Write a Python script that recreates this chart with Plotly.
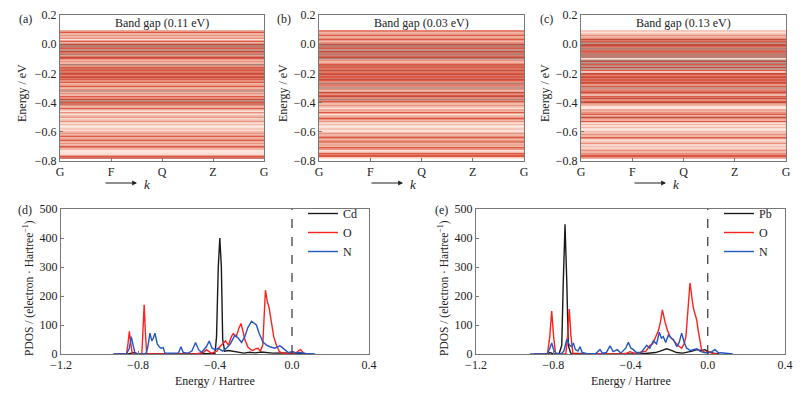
import plotly.graph_objects as go

# The page places the figure 8 px in from the top-left corner (default body margin),
# so the figure is sized to fill the rest of the 809x399 window.
PAGE_OFF = 8
W, H = 809 - PAGE_OFF, 399 - PAGE_OFF
FONT = "Liberation Serif"

# ---------------- Band structure data ----------------
k_labels = ["G", "F", "Q", "Z", "G"]
k_positions = [0, 1, 2, 3, 4]

band_energies = [0.09, 0.08, 0.07, 0.06, 0.05, 0.04, 0.03, 0.02, 0.01, 0.00,
                 -0.01, -0.02, -0.03, -0.04, -0.05, -0.06, -0.07, -0.08, -0.09, -0.10,
                 -0.11, -0.12, -0.13, -0.14, -0.15, -0.16, -0.17, -0.18, -0.19, -0.20,
                 -0.21, -0.22, -0.23, -0.24, -0.25, -0.26, -0.27, -0.28, -0.29, -0.30,
                 -0.31, -0.32, -0.33, -0.34, -0.35, -0.36, -0.37, -0.38, -0.39, -0.40,
                 -0.41, -0.42, -0.43, -0.44, -0.45, -0.46, -0.47, -0.48, -0.49, -0.50,
                 -0.51, -0.52, -0.53, -0.54, -0.55, -0.56, -0.57, -0.58, -0.59, -0.60,
                 -0.61, -0.62, -0.63, -0.64, -0.65, -0.66, -0.67, -0.68, -0.69, -0.70,
                 -0.71, -0.72, -0.73, -0.74, -0.75, -0.76, -0.77, -0.78]

# shade index per band (0 = pale pink ... 3 = red, 4 = dark red, 5 = greyish brown)
shades_a = [2, 3, 1, 2, 1, 2, 0, 3, 1, 4,
            5, 4, 3, 5, 4, 3, 5, 2, 4, 3,
            1, 2, 1, 5, 2, 3, 4, 3, 3, 4,
            3, 3, 4, 3, 2, 3, 1, 2, 3, 1,
            2, 5, 1, 2, 1, 3, 2, 4, 5, 3,
            4, 2, 1, 3, 1, 0, 2, 0, 1, 2,
            0, 1, 2, 0, 1, 0, 0, 1, 0, 1,
            2, 1, 3, 1, 2, 3, 1, 2, 1, 3,
            2, 1, 0, 0, 0, 1, 3, 4]
shades_b = [3, 1, 2, 3, 1, 2, 3, 1, 2, 4,
            5, 4, 3, 5, 4, 4, 5, 3, 4, 5,
            2, 1, 2, 3, 4, 3, 3, 4, 3, 3,
            4, 3, 3, 4, 3, 2, 5, 3, 2, 5,
            2, 1, 4, 2, 3, 4, 2, 5, 3, 2,
            1, 2, 1, 0, 2, 1, 3, 0, 1, 2,
            3, 1, 2, 0, 1, 0, 0, 1, 0, 0,
            2, 1, 2, 3, 1, 2, 3, 1, 2, 1,
            3, 2, 0, 1, 3, 3, 3, 0]
shades_c = [1, 0, 1, 2, 1, 2, 4, 3, 5, 4,
            4, 3, 5, 4, 3, 4, 5, 4, 5, 0,
            5, 4, 5, 3, 5, 4, 5, 3, 0, 4,
            3, 3, 4, 3, 3, 4, 3, 2, 3, 5,
            2, 3, 4, 2, 1, 3, 4, 2, 3, 4,
            2, 1, 0, 0, 2, 1, 2, 3, 1, 4,
            2, 1, 3, 0, 1, 0, 1, 0, 0, 1,
            1, 2, 1, 3, 1, 0, 1, 2, 0, 1,
            0, 1, 2, 1, 2, 3, 3, 2]
shade_colors = ["#fbe1d8", "#f2b8a7", "#e8907c", "#dc5842", "#c44c3c", "#b07d72"]
band_gaps = ["Band gap (0.11 eV)", "Band gap (0.03 eV)", "Band gap (0.13 eV)"]

# ---------------- PDOS data (energy in Hartree, PDOS) ----------------
cd_pdos = [(-0.92, 0), (-0.85, 0), (-0.83, 4), (-0.82, 5), (-0.80, 0), (-0.45, 0), (-0.40, 2),
           (-0.392, 60), (-0.383, 300), (-0.375, 400), (-0.367, 300), (-0.36, 50), (-0.35, 10),
           (-0.33, 12), (-0.30, 8), (-0.27, 5), (-0.25, 3), (-0.22, 6), (-0.19, 4), (-0.16, 7),
           (-0.13, 5), (-0.10, 3), (-0.05, 4), (0.0, 3), (0.05, 1), (0.08, 0)]
o_pdos_d = [(-0.92, 0), (-0.86, 0), (-0.853, 30), (-0.845, 78), (-0.838, 40), (-0.83, 0),
            (-0.78, 0), (-0.774, 80), (-0.768, 170), (-0.762, 80), (-0.755, 0), (-0.50, 0),
            (-0.46, 5), (-0.444, 15), (-0.42, 3), (-0.39, 10), (-0.375, 25), (-0.36, 35),
            (-0.345, 45), (-0.33, 30), (-0.315, 60), (-0.305, 70), (-0.29, 60), (-0.275, 90),
            (-0.265, 105), (-0.255, 80), (-0.245, 50), (-0.23, 25), (-0.215, 15), (-0.202, 12),
            (-0.19, 18), (-0.176, 20), (-0.165, 10), (-0.152, 30), (-0.145, 120), (-0.138, 220),
            (-0.128, 180), (-0.119, 160), (-0.107, 110), (-0.095, 60), (-0.081, 30), (-0.065, 8),
            (-0.05, 3), (-0.02, 2), (0.02, 3), (0.035, 12), (0.045, 15), (0.06, 3), (0.08, 0)]
n_pdos_d = [(-0.93, 0), (-0.86, 0), (-0.845, 20), (-0.835, 60), (-0.825, 30), (-0.815, 0),
            (-0.76, 0), (-0.75, 20), (-0.738, 72), (-0.728, 45), (-0.72, 55), (-0.712, 72),
            (-0.70, 35), (-0.69, 25), (-0.68, 20), (-0.669, 22), (-0.66, 3), (-0.62, 2),
            (-0.59, 3), (-0.577, 25), (-0.565, 5), (-0.54, 3), (-0.52, 10), (-0.501, 40),
            (-0.485, 15), (-0.47, 5), (-0.445, 25), (-0.43, 45), (-0.415, 20), (-0.40, 15),
            (-0.383, 20), (-0.36, 10), (-0.34, 20), (-0.32, 35), (-0.297, 65), (-0.28, 55),
            (-0.262, 40), (-0.245, 60), (-0.23, 90), (-0.21, 113), (-0.195, 105), (-0.185, 100),
            (-0.17, 70), (-0.15, 40), (-0.13, 30), (-0.115, 25), (-0.09, 20), (-0.063, 28),
            (-0.05, 22), (-0.037, 15), (-0.02, 5), (0.006, 8), (0.02, 4), (0.04, 5),
            (0.07, 2), (0.12, 0)]
pb_pdos = [(-0.90, 0), (-0.83, 0), (-0.817, 5), (-0.80, 0), (-0.77, 0), (-0.756, 30),
           (-0.748, 250), (-0.739, 447), (-0.73, 250), (-0.722, 30), (-0.71, 3), (-0.60, 0),
           (-0.35, 0), (-0.30, 2), (-0.27, 5), (-0.247, 10), (-0.23, 15), (-0.213, 18),
           (-0.195, 14), (-0.175, 8), (-0.161, 5), (-0.13, 3), (-0.10, 6), (-0.08, 10),
           (-0.057, 15), (-0.035, 12), (-0.014, 15), (0.0, 8), (0.03, 3), (0.06, 0)]
o_pdos_e = [(-0.90, 0), (-0.83, 0), (-0.818, 60), (-0.808, 148), (-0.798, 60), (-0.788, 0),
            (-0.735, 0), (-0.726, 60), (-0.717, 155), (-0.708, 60), (-0.698, 0), (-0.45, 0),
            (-0.42, 3), (-0.403, 8), (-0.38, 3), (-0.351, 5), (-0.32, 10), (-0.299, 30),
            (-0.285, 35), (-0.273, 55), (-0.256, 80), (-0.245, 110), (-0.235, 152),
            (-0.221, 110), (-0.208, 80), (-0.195, 60), (-0.183, 50), (-0.170, 40),
            (-0.155, 30), (-0.135, 20), (-0.122, 35), (-0.113, 60), (-0.102, 150),
            (-0.092, 245), (-0.083, 200), (-0.075, 160), (-0.066, 138), (-0.058, 120),
            (-0.049, 80), (-0.04, 40), (-0.032, 15), (-0.015, 5), (0.003, 8), (0.02, 3),
            (0.05, 0)]
n_pdos_e = [(-0.92, 0), (-0.83, 0), (-0.818, 20), (-0.808, 38), (-0.798, 15), (-0.785, 3),
            (-0.76, 0), (-0.745, 10), (-0.73, 50), (-0.715, 30), (-0.705, 25), (-0.696, 38),
            (-0.685, 15), (-0.672, 10), (-0.661, 25), (-0.65, 5), (-0.62, 0), (-0.58, 2),
            (-0.558, 15), (-0.545, 3), (-0.525, 5), (-0.506, 28), (-0.49, 8), (-0.468, 15),
            (-0.45, 3), (-0.425, 20), (-0.411, 40), (-0.398, 20), (-0.385, 15), (-0.37, 5),
            (-0.345, 5), (-0.316, 30), (-0.30, 20), (-0.282, 45), (-0.265, 35), (-0.251, 75),
            (-0.24, 55), (-0.23, 60), (-0.218, 40), (-0.204, 65), (-0.19, 55), (-0.178, 50),
            (-0.16, 25), (-0.148, 40), (-0.135, 72), (-0.122, 40), (-0.109, 20), (-0.09, 12),
            (-0.057, 18), (-0.04, 10), (-0.02, 5), (0.0, 3), (0.02, 8), (0.037, 15),
            (0.055, 5), (0.08, 3), (0.13, 0)]

pdos_x_ticks = [-1.2, -0.8, -0.4, 0.0, 0.4]
pdos_y_ticks = [0, 100, 200, 300, 400, 500]
band_y_ticks = [-0.8, -0.6, -0.4, -0.2, 0.0, 0.2]

LINE_BLACK, LINE_RED, LINE_BLUE = "#1a1a1a", "#ff2020", "#2456c0"


def px_x(p):
    return (p - PAGE_OFF) / W


def px_y(p):
    return 1 - (p - PAGE_OFF) / H


fig = go.Figure()

# band panels
band_sets = [shades_a, shades_b, shades_c]
for i, shades in enumerate(band_sets):
    ax = "" if i == 0 else str(i + 1)
    for s, col in enumerate(shade_colors):
        xs, ys = [], []
        for e, sh in zip(band_energies, shades):
            if sh == s:
                xs += [k_positions[0], k_positions[-1], None]
                ys += [e, e, None]
        fig.add_trace(go.Scatter(x=xs, y=ys, mode="lines", line=dict(color=col, width=1.5),
                                 showlegend=False, hoverinfo="skip",
                                 xaxis="x" + ax, yaxis="y" + ax))

# PDOS panels
pdos_sets = [
    ("4", "legend", [("Cd", cd_pdos, LINE_BLACK), ("O", o_pdos_d, LINE_RED), ("N", n_pdos_d, LINE_BLUE)]),
    ("5", "legend2", [("Pb", pb_pdos, LINE_BLACK), ("O", o_pdos_e, LINE_RED), ("N", n_pdos_e, LINE_BLUE)]),
]
for ax, leg, series in pdos_sets:
    for name, data, col in series:
        fig.add_trace(go.Scatter(x=[d[0] for d in data], y=[d[1] for d in data], mode="lines",
                                 name=name, line=dict(color=col, width=1.4),
                                 xaxis="x" + ax, yaxis="y" + ax, legend=leg))
    fig.add_shape(type="line", x0=0, x1=0, y0=0, y1=500, xref="x" + ax, yref="y" + ax,
                  line=dict(color="#333333", width=1.2, dash="dash"))

axis_common = dict(showline=True, mirror=True, linecolor="#777777", linewidth=1,
                   ticks="inside", ticklen=3, tickcolor="#777777", showgrid=False,
                   zeroline=False, automargin=False,
                   tickfont=dict(size=12, family=FONT, color="#222"))

band_x_domains = [(60, 264), (319, 524), (581, 786)]
band_y_domain = [px_y(161), px_y(15)]
layout = {}
for i, (x0, x1) in enumerate(band_x_domains):
    n = "" if i == 0 else str(i + 1)
    layout["xaxis" + n] = dict(axis_common, domain=[px_x(x0), px_x(x1)], range=[0, 4],
                               tickvals=k_positions, ticktext=k_labels, anchor="y" + n)
    layout["yaxis" + n] = dict(axis_common, domain=band_y_domain, range=[-0.8, 0.2],
                               tickvals=band_y_ticks, tickformat=".1f", anchor="x" + n)

pdos_x_domains = [(61, 369), (476, 785)]
pdos_y_domain = [px_y(354), px_y(209)]
for j, (x0, x1) in enumerate(pdos_x_domains):
    n = str(j + 4)
    layout["xaxis" + n] = dict(axis_common, domain=[px_x(x0), px_x(x1)], range=[-1.2, 0.4],
                               tickvals=pdos_x_ticks, tickformat=".1f", anchor="y" + n)
    layout["yaxis" + n] = dict(axis_common, domain=pdos_y_domain, range=[0, 500],
                               tickvals=pdos_y_ticks, anchor="x" + n)

ann = []
def text(x, y, t, size=12, angle=0, xanchor="center"):
    ann.append(dict(x=px_x(x), y=px_y(y), xref="paper", yref="paper", text=t,
                    showarrow=False, textangle=angle, xanchor=xanchor, yanchor="middle",
                    font=dict(size=size, family=FONT, color="#222")))

for lbl, (x0, x1), ytx, gap, arr_end, kx in zip(
        ["(a)", "(b)", "(c)"], band_x_domains, [22, 283, 545], band_gaps,
        [137, 403, 666], [147, 413, 676]):
    text(x0 - 35, 19, lbl, 12)
    text((x0 + x1) / 2, 23, gap, 12)
    text(ytx, 93, "Energy / eV", 12, -90)
    ann.append(dict(x=px_x(arr_end), y=px_y(183), xref="paper", yref="paper", text="",
                    showarrow=True, ax=-33, ay=0, arrowhead=2, arrowsize=0.8,
                    arrowwidth=1.2, arrowcolor="#222"))
    text(kx, 184, "<i>k</i>", 13)

for lbl, (x0, x1), ytx, lx in zip(["(d)", "(e)"], pdos_x_domains, [28, 443], [25, 441]):
    text(lx, 210, lbl, 12)
    text((x0 + x1) / 2, 381, "Energy / Hartree", 12)
    text(ytx, 288, "PDOS / (electron · Hartree<sup>−1</sup>)", 11.5, -90)

legend_common = dict(xanchor="left", yanchor="top", bgcolor="rgba(0,0,0,0)",
                     font=dict(size=12, family=FONT, color="#222"), tracegroupgap=0)
fig.update_layout(
    width=W, height=H, margin=dict(l=0, r=0, t=0, b=0),
    plot_bgcolor="white", paper_bgcolor="white",
    font=dict(family=FONT, size=12, color="#222"),
    annotations=ann,
    legend=dict(legend_common, x=px_x(303), y=px_y(199)),
    legend2=dict(legend_common, x=px_x(719), y=px_y(199)),
    **layout,
)

fig.write_html("out.html")
